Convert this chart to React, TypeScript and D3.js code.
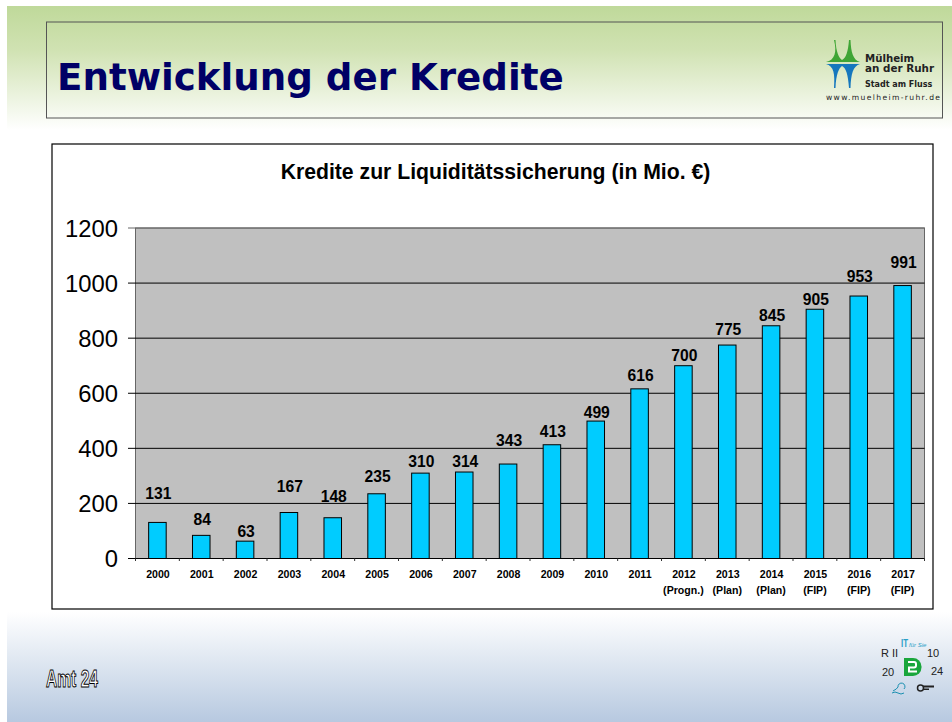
import React from "react";
import * as d3 from "d3";

const categories = ["2000","2001","2002","2003","2004","2005","2006","2007","2008","2009","2010","2011","2012","2013","2014","2015","2016","2017"];
const subLabels = ["","","","","","","","","","","","","(Progn.)","(Plan)","(Plan)","(FIP)","(FIP)","(FIP)"];
const values = [131,84,63,167,148,235,310,314,343,413,499,616,700,775,845,905,953,991];
const labelGaps = [29,16,10,27,22,18,12,11,24,14,9,14,11,16,11,10,20,24];
const yTicks = [0,200,400,600,800,1000,1200];

const W = 952, H = 722;
const x = d3.scaleBand<string>().domain(categories).range([135.5, 924.5]).paddingInner(0.6).paddingOuter(0.3);
const bandStep = x.step();
const y = d3.scaleLinear().domain([0, 1200]).range([558.5, 228]);
const font = "'Liberation Sans', Arial, sans-serif";

export default function App() {
  return (
    <svg width={W} height={H} viewBox={`0 0 ${W} ${H}`} style={{ position: "absolute", left: 0, top: 0, background: "#fff" }}>
      <defs>
        <linearGradient id="top" x1="0" y1="0" x2="0" y2="1">
          <stop offset="0" stopColor="#bfd99a" />
          <stop offset="0.35" stopColor="#d0e2b2" />
          <stop offset="1" stopColor="#ffffff" />
        </linearGradient>
        <linearGradient id="bottom" x1="0" y1="0" x2="0" y2="1">
          <stop offset="0" stopColor="#ffffff" />
          <stop offset="1" stopColor="#b7c9e0" />
        </linearGradient>
      </defs>
      <rect x={7} y={6} width={945} height={124} fill="url(#top)" />
      <rect x={7} y={612} width={945} height={110} fill="url(#bottom)" />

      <rect x={46.5} y={22} width={896} height={96} fill="none" stroke="#555" strokeWidth={1} />
      <text x={57} y={90} fontFamily="'DejaVu Sans', sans-serif" fontWeight="bold" fontSize={37.2} fill="#000066">Entwicklung der Kredite</text>

      {/* logo */}
      <g>
        <path d="M826 62 C835 60 837 52 834 40 L835.5 40 C836 52 839 58 842 60 C846 58 848 52 849 40 L850.5 40 C851 52 853 60 860 62 Z" fill="#3fa535" />
        <path d="M826 64 L860 64 C853 66 851 74 850.5 88 L849 88 C848 74 846 68 842 66 C839 68 836 74 835.5 88 L834 88 C835 74 834 66 826 64 Z" fill="#1577bd" />
        <text x={865} y={61.5} fontFamily="'DejaVu Sans', sans-serif" fontWeight="bold" fontSize={10.2} fill="#222">Mülheim</text>
        <text x={865} y={72} textLength={69} lengthAdjust="spacingAndGlyphs" fontFamily="'DejaVu Sans', sans-serif" fontWeight="bold" fontSize={10.2} fill="#222">an der Ruhr</text>
        <text x={865} y={87} fontFamily="'DejaVu Sans', sans-serif" fontWeight="bold" fontSize={8} fill="#222">Stadt am Fluss</text>
        <text x={826} y={100} textLength={114} fontFamily="'DejaVu Sans', sans-serif" fontSize={7.6} fill="#222">www.muelheim-ruhr.de</text>
      </g>

      {/* chart frame */}
      <rect x={52} y={144} width={881} height={465} fill="#fff" stroke="#000" strokeWidth={1.2} />
      <text x={495.5} y={179} textAnchor="middle" fontFamily={font} fontWeight="bold" fontSize={21.2} fill="#000">Kredite zur Liquiditätssicherung (in Mio. €)</text>

      <rect x={135.5} y={y(1200)} width={789} height={y(0) - y(1200)} fill="#c0c0c0" stroke="#666" strokeWidth={1} />
      {yTicks.map((t) => (
        <g key={t}>
          <line x1={128} x2={924.5} y1={y(t)} y2={y(t)} stroke={t === 1200 ? "#666" : "#000"} strokeWidth={1} />
          <text x={118} y={y(t) + 8.5} textAnchor="end" fontFamily={font} fontSize={23.8} fill="#000">{t}</text>
        </g>
      ))}
      {categories.map((c, i) => (
        <line key={c} x1={135.5 + i * bandStep} x2={135.5 + i * bandStep} y1={y(0)} y2={y(0) + 2.5} stroke="#333" />
      ))}
      <line x1={924.5} x2={924.5} y1={y(0)} y2={y(0) + 2.5} stroke="#333" />

      {categories.map((c, i) => (
        <rect key={c} x={x(c)} y={y(values[i])} width={x.bandwidth()} height={y(0) - y(values[i])} fill="#00ccff" stroke="#000" strokeWidth={1} />
      ))}
      {categories.map((c, i) => (
        <text key={c} x={x(c)! + x.bandwidth() / 2 + 1} y={y(values[i]) - labelGaps[i] + 6} textAnchor="middle" textLength={String(values[i]).length * 8.7} lengthAdjust="spacingAndGlyphs" fontFamily={font} fontWeight="bold" fontSize={16.8} fill="#000">{values[i]}</text>
      ))}
      {categories.map((c, i) => (
        <g key={c} fontFamily={font} fontWeight="bold" fontSize={10.6} fill="#000" textAnchor="middle">
          <text x={x(c)! + x.bandwidth() / 2 + 0.5} y={578}>{c}</text>
          {subLabels[i] && <text x={x(c)! + x.bandwidth() / 2} y={594}>{subLabels[i]}</text>}
        </g>
      ))}

      <text x={46} y={687} fontFamily={font} fontWeight="bold" fontSize={23} textLength={52} lengthAdjust="spacingAndGlyphs" fill="#fff" stroke="#000" strokeWidth={1}>Amt 24</text>

      {/* bottom-right badge */}
      <g fontFamily={font} fontSize={11} fill="#222">
        <text x={881} y={657}>R II</text>
        <text x={927} y={657}>10</text>
        <text x={882} y={676}>20</text>
        <text x={931} y={675}>24</text>
        <text x={901} y={647} fontSize={11} fontWeight="bold" textLength={7} lengthAdjust="spacingAndGlyphs" fill="#2aa0c8">IT</text>
        <text x={909} y={647} fontSize={6} fontStyle="italic" fill="#2aa0c8">für Sie</text>
        <path d="M904 658 h9 a8.5 8.5 0 0 1 8.5 8.5 v1 a8.5 8.5 0 0 1 -8.5 8.5 h-9 Z" fill="#1aa63c" />
        <path d="M908 662 h6 a2 2 0 0 1 2 2 v1.5 a2 2 0 0 1 -2 2 h-5 v4 h8" fill="none" stroke="#fff" strokeWidth={2} />
        <path d="M893 691 q4 -2 5 -4 a3.5 3.5 0 1 1 6 2 M892 693 q3 -2 6 0 t6 0" fill="none" stroke="#1a8fb0" strokeWidth={1} />
        <circle cx={920.5} cy={688} r={3} fill="none" stroke="#222" strokeWidth={1.5} />
        <rect x={923} y={685.5} width={11} height={2} fill="#222" />
        <rect x={923} y={688.5} width={6} height={1.5} fill="#222" />
      </g>
    </svg>
  );
}
